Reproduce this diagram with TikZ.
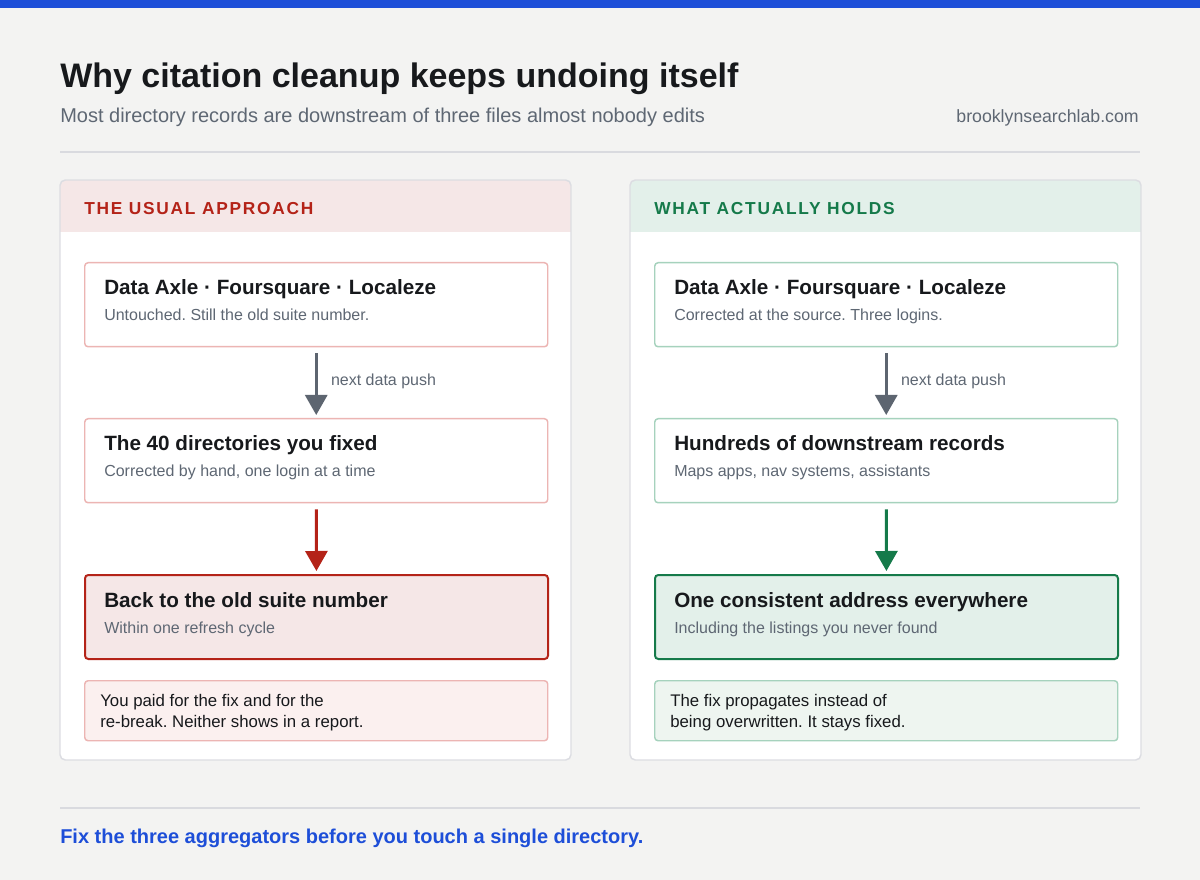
\documentclass[tikz,border=0pt]{standalone}
\usepackage{fontspec}
\setmainfont{Liberation Sans}
\newfontfamily\headfont[LetterSpace=10]{Liberation Sans}
\usetikzlibrary{arrows.meta, positioning}
\definecolor{pagebg}{HTML}{F3F3F2}
\definecolor{topblue}{HTML}{1D4ED8}
\definecolor{ink}{HTML}{17191C}
\definecolor{muted}{HTML}{5E6773}
\definecolor{rulegray}{HTML}{D9DADF}
\definecolor{panelline}{HTML}{DCDDE2}
\definecolor{redtxt}{HTML}{B42318}
\definecolor{redfill}{HTML}{F5E7E7}
\definecolor{redline}{HTML}{ECB5B3}
\definecolor{rednote}{HTML}{FBF0EF}
\definecolor{greentxt}{HTML}{157A4A}
\definecolor{greenfill}{HTML}{E3F0EA}
\definecolor{greenline}{HTML}{A6D2BD}
\definecolor{greennote}{HTML}{EEF5F0}
\definecolor{arrowgray}{HTML}{5D6570}
\frenchspacing

\begin{document}
\begin{tikzpicture}[x=0.75pt,y=-0.75pt,
    card/.style={draw, line width=1.1pt, rounded corners=2.5pt, minimum width=347.25pt, minimum height=63pt, anchor=north west, inner sep=0pt},
    notecard/.style={card, minimum height=45pt},
    btitle/.style={anchor=base west, inner sep=0pt, text=ink, font=\fontsize{15.5}{18}\selectfont\bfseries},
    bsub/.style={anchor=base west, inner sep=0pt, text=muted, font=\fontsize{12}{14}\selectfont},
    notetext/.style={anchor=base west, inner sep=0pt, text=ink, align=left, font=\fontsize{12.6}{15.75}\selectfont},
    headtext/.style={anchor=base west, inner sep=0pt, font=\fontsize{13}{15}\headfont\bfseries},
    flow/.style={-{Triangle[length=15pt,width=16.5pt]}, line width=2.25pt, shorten <=4.5pt, shorten >=2.25pt}]
    % Page
    \useasboundingbox (0,0) rectangle (1200,880);
    \fill[pagebg] (0,0) rectangle (1200,880);
    \fill[topblue] (0,0) rectangle (1200,8);

    % Heading
    \node[anchor=base west, inner sep=0pt, text=ink, font=\fontsize{25.5}{30}\selectfont\bfseries] (title) at (60,88) {Why citation cleanup keeps undoing itself};
    \node[anchor=base west, inner sep=0pt, text=muted, font=\fontsize{15}{18}\selectfont] (subtitle) at (60,123) {Most directory records are downstream of three files almost nobody edits};
    \node[anchor=base east, inner sep=0pt, text=muted, font=\fontsize{13.3}{16}\selectfont] (site) at (1139,123) {brooklynsearchlab.com};
    \draw[rulegray, line width=0.9pt] (60,152) -- (1140,152);

    % Left panel
    \fill[white, rounded corners=4pt] (60,180) rectangle (571,760);
    \begin{scope}
        \clip[rounded corners=4pt] (60,180) rectangle (571,760);
        \fill[redfill] (60,180) rectangle (571,232);
    \end{scope}
    \draw[panelline, line width=1.1pt, rounded corners=4pt] (60,180) rectangle (571,760);
    \node[headtext, text=redtxt] (lhead) at (84,215) {THE USUAL APPROACH};

    \node[card, draw=redline, fill=white] (l1) at (84,262) {};
    \node[btitle] (l1t) at ([shift={(20,33)}]l1.north west) {Data Axle · Foursquare · Localeze};
    \node[bsub] (l1s) at ([shift={(20,59)}]l1.north west) {Untouched. Still the old suite number.};

    \node[card, draw=redline, fill=white] (l2) at (84,418) {};
    \node[btitle] (l2t) at ([shift={(20,33)}]l2.north west) {The 40 directories you fixed};
    \node[bsub] (l2s) at ([shift={(20,59)}]l2.north west) {Corrected by hand, one login at a time};

    \node[card, draw=redtxt, fill=redfill, line width=1.5pt] (l3) at (84,574) {};
    \node[btitle] (l3t) at ([shift={(20,33)}]l3.north west) {Back to the old suite number};
    \node[bsub] (l3s) at ([shift={(20,59)}]l3.north west) {Within one refresh cycle};

    \node[notecard, draw=redline, fill=rednote] (l4) at (84,680) {};
    \node[notetext] (l4t) at ([shift={(16,47)}]l4.north west) {You paid for the fix and for the\\re-break. Neither shows in a report.};

    \draw[flow, arrowgray] (l1) -- (l2) node[pos=0.48, right=10pt, inner sep=0pt, text=muted, font=\fontsize{12}{14}\selectfont] (lpush) {next data push};
    \draw[flow, redtxt] (l2) -- (l3);

    % Right panel
    \fill[white, rounded corners=4pt] (630,180) rectangle (1141,760);
    \begin{scope}
        \clip[rounded corners=4pt] (630,180) rectangle (1141,760);
        \fill[greenfill] (630,180) rectangle (1141,232);
    \end{scope}
    \draw[panelline, line width=1.1pt, rounded corners=4pt] (630,180) rectangle (1141,760);
    \node[headtext, text=greentxt] (rhead) at (654,215) {WHAT ACTUALLY HOLDS};

    \node[card, draw=greenline, fill=white] (r1) at (654,262) {};
    \node[btitle] (r1t) at ([shift={(20,33)}]r1.north west) {Data Axle · Foursquare · Localeze};
    \node[bsub] (r1s) at ([shift={(20,59)}]r1.north west) {Corrected at the source. Three logins.};

    \node[card, draw=greenline, fill=white] (r2) at (654,418) {};
    \node[btitle] (r2t) at ([shift={(20,33)}]r2.north west) {Hundreds of downstream records};
    \node[bsub] (r2s) at ([shift={(20,59)}]r2.north west) {Maps apps, nav systems, assistants};

    \node[card, draw=greentxt, fill=greenfill, line width=1.5pt] (r3) at (654,574) {};
    \node[btitle] (r3t) at ([shift={(20,33)}]r3.north west) {One consistent address everywhere};
    \node[bsub] (r3s) at ([shift={(20,59)}]r3.north west) {Including the listings you never found};

    \node[notecard, draw=greenline, fill=greennote] (r4) at (654,680) {};
    \node[notetext] (r4t) at ([shift={(16,47)}]r4.north west) {The fix propagates instead of\\being overwritten. It stays fixed.};

    \draw[flow, arrowgray] (r1) -- (r2) node[pos=0.48, right=10pt, inner sep=0pt, text=muted, font=\fontsize{12}{14}\selectfont] (rpush) {next data push};
    \draw[flow, greentxt] (r2) -- (r3);

    % Footer
    \draw[rulegray, line width=0.9pt] (60,808) -- (1140,808);
    \node[anchor=base west, inner sep=0pt, text=topblue, font=\fontsize{15}{18}\selectfont\bfseries] (footer) at (60,843) {Fix the three aggregators before you touch a single directory.};
\end{tikzpicture}
\end{document}
